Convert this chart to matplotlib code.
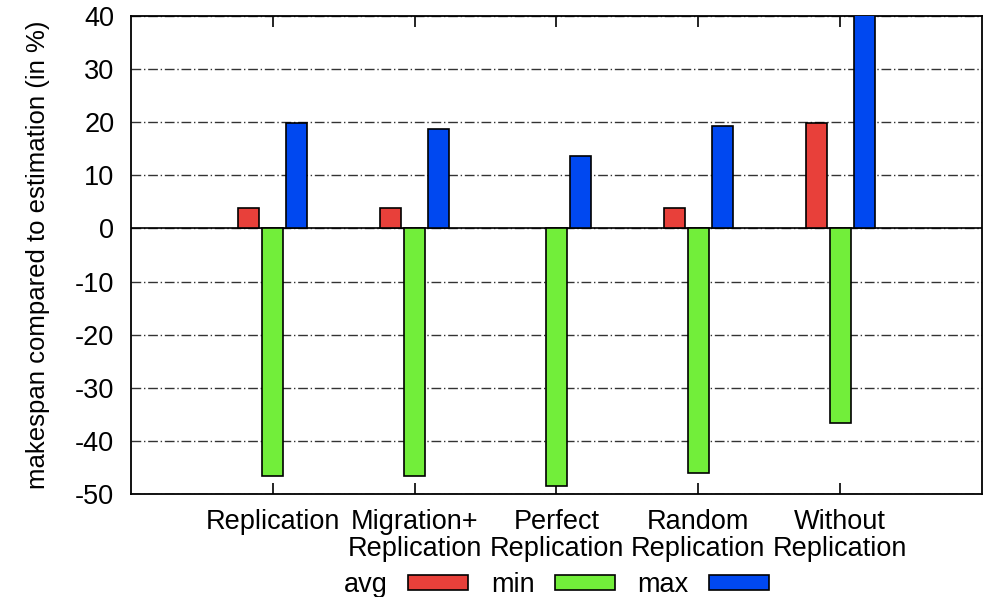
import numpy as np
import matplotlib.pyplot as plt

plt.rcParams['font.family'] = ['Liberation Sans', 'DejaVu Sans']
plt.rcParams['axes.unicode_minus'] = False

categories = ['Replication', 'Migration+\nReplication', 'Perfect\nReplication',
              'Random\nReplication', 'Without\nReplication']
avg_vals = [3.9, 3.8, 0.0, 3.9, 19.8]
min_vals = [-46.7, -46.7, -48.4, -46.0, -36.7]
max_vals = [19.9, 18.7, 13.6, 19.3, 45.0]

colors = ['#e8403a', '#72ee3a', '#0048f0']
labels = ['avg', 'min', 'max']

fs = 19.5

fig = plt.figure(figsize=(9.88, 5.97), dpi=100)
ax = fig.add_axes([0.1326, 0.1725, 0.8613, 0.8007])

x = np.arange(1, len(categories) + 1)
w = 0.148
step = 0.17
for i, (vals, c, lab) in enumerate(zip([avg_vals, min_vals, max_vals], colors, labels)):
    vals = np.array(vals)
    mask = vals != 0
    ax.bar(x[mask] + (i - 1) * step, vals[mask], width=w, color=c,
           edgecolor='black', linewidth=1.2, label=lab, zorder=3)

ax.set_xlim(0, 6)
ax.set_ylim(-50, 40)
ax.set_yticks(range(-50, 41, 10))
ax.set_xticks(x)
ax.set_xticklabels(categories, fontsize=fs, linespacing=1.02)
ax.tick_params(axis='y', length=0, labelsize=fs, pad=12)
ax.tick_params(axis='x', direction='in', length=8, width=1.2, top=True,
               pad=11)

ax.yaxis.grid(True, color='#333333', linewidth=1.0, dashes=(7, 2, 1, 2), zorder=1)
ax.axhline(0, color='black', linewidth=1.2, zorder=2)
for s in ax.spines.values():
    s.set_linewidth(1.3)

ax.set_ylabel('makespan compared to estimation (in %)', fontsize=18.5, labelpad=18)

ax.legend(loc='center', bbox_to_anchor=(0.5, -0.19), ncol=3, frameon=False,
          fontsize=fs, markerfirst=False, handlelength=2.2, handleheight=0.47,
          handletextpad=0.75, columnspacing=0.85)

fig.savefig('out.png', dpi=100)
